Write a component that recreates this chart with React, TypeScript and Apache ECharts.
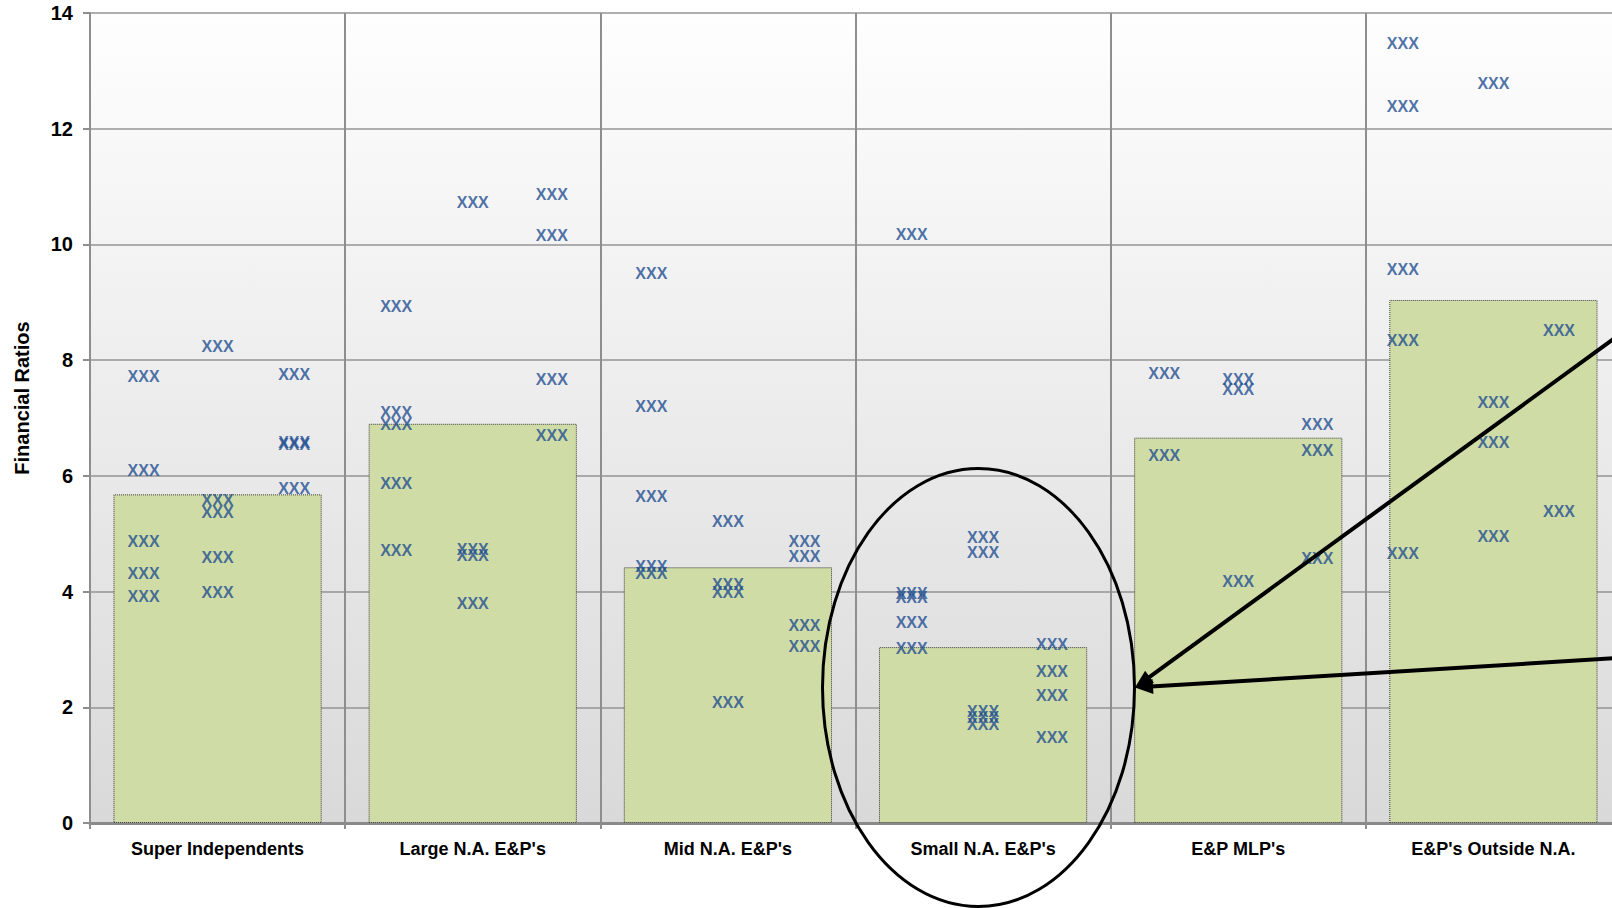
import React, { useEffect, useRef } from "react";
import * as echarts from "echarts";

// Peer groups along the bottom axis
const categories = [
  "Super Independents",
  "Large N.A. E&P's",
  "Mid N.A. E&P's",
  "Small N.A. E&P's",
  "E&P MLP's",
  "E&P's Outside N.A.",
];

// Group averages drawn as the green columns
const barValues = [5.68, 6.9, 4.42, 3.04, 6.66, 9.04];

// Value axis range
const yMin = 0;
const yMax = 14;
const yStep = 2;

// Horizontal placement (in group units) of the three company columns of each group
const columnPositions = [
  [0.21, 0.5, 0.8],
  [1.2, 1.5, 1.81],
  [2.2, 2.5, 2.8],
  [3.22, 3.5, 3.77],
  [4.21, 4.5, 4.81],
  [5.145, 5.5, 5.757],
];

// Individual company ratios, one list per column
const superIndependents = [
  [7.71, 6.1, 4.87, 4.32, 3.91],
  [8.23, 5.58, 5.36, 4.59, 3.99],
  [7.75, 6.58, 6.54, 5.78],
];
const largeNA = [
  [8.93, 7.1, 6.89, 5.86, 4.71],
  [10.73, 4.72, 4.63, 3.8],
  [10.86, 10.15, 7.66, 6.7],
];
const midNA = [
  [9.49, 7.2, 5.65, 4.43, 4.32],
  [5.21, 4.13, 3.98, 2.08],
  [4.87, 4.61, 3.41, 3.05],
];
const smallNA = [
  [10.18, 3.96, 3.89, 3.47, 3.01],
  [4.94, 4.68, 1.93, 1.82, 1.7],
  [3.09, 2.61, 2.21, 1.47],
];
const mlps = [
  [7.77, 6.35],
  [7.66, 7.5, 4.18],
  [6.88, 6.43, 4.57],
];
const outsideNA = [
  [13.48, 12.38, 9.56, 8.34, 4.65],
  [12.79, 7.27, 6.57, 4.95],
  [8.51, 5.39],
];

const pointGroups = [superIndependents, largeNA, midNA, smallNA, mlps, outsideNA];
const pointLabel = "XXX";

const FONT = '"Liberation Sans", Arial, sans-serif';

function arrow(x1: number, y1: number, x2: number, y2: number) {
  const dx = x2 - x1;
  const dy = y2 - y1;
  const len = Math.hypot(dx, dy);
  const ux = dx / len;
  const uy = dy / len;
  const headLen = 18;
  const headHalf = 7.5;
  const bx = x2 - ux * headLen;
  const by = y2 - uy * headLen;
  return [
    {
      type: "line",
      z: 100,
      shape: { x1, y1, x2: bx + ux * 2, y2: by + uy * 2 },
      style: { stroke: "#000", lineWidth: 4 },
    },
    {
      type: "polygon",
      z: 100,
      shape: {
        points: [
          [x2, y2],
          [bx - uy * headHalf, by + ux * headHalf],
          [bx + uy * headHalf, by - ux * headHalf],
        ],
      },
      style: { fill: "#000" },
    },
  ];
}

export default function App() {
  const ref = useRef<HTMLDivElement>(null);

  useEffect(() => {
    if (!ref.current) return;
    const chart = echarts.init(ref.current, null, { renderer: "svg" });

    const scatterData: [number, number][] = [];
    pointGroups.forEach((group, g) => {
      group.forEach((col, c) => {
        col.forEach((v) => scatterData.push([columnPositions[g][c], v]));
      });
    });

    const gridColor = "#8e8e8e";

    chart.setOption({
      animation: false,
      backgroundColor: "#ffffff",
      grid: {
        left: 90,
        top: 13,
        right: 0,
        bottom: 85,
        show: true,
        borderWidth: 0,
        backgroundColor: new echarts.graphic.LinearGradient(0, 0, 0, 1, [
          { offset: 0, color: "#fefefe" },
          { offset: 1, color: "#d9d9d9" },
        ]),
      },
      xAxis: [
        {
          type: "category",
          data: categories,
          boundaryGap: true,
          axisLine: { show: true, lineStyle: { color: "#8a8a8a", width: 3 } },
          axisTick: {
            show: true,
            interval: 0,
            length: 6,
            lineStyle: { color: gridColor, width: 2 },
          },
          splitLine: {
            show: true,
            interval: 0,
            lineStyle: { color: gridColor, width: 2 },
          },
          axisLabel: {
            interval: 0,
            margin: 17,
            color: "#000",
            fontFamily: FONT,
            fontWeight: "bold",
            fontSize: 18,
          },
        },
        {
          type: "value",
          min: 0,
          max: categories.length,
          show: false,
        },
      ],
      yAxis: {
        type: "value",
        min: yMin,
        max: yMax,
        interval: yStep,
        axisLine: { show: true, lineStyle: { color: gridColor, width: 2 } },
        axisTick: {
          show: true,
          length: 7,
          lineStyle: { color: gridColor, width: 2 },
        },
        splitLine: { show: true, lineStyle: { color: "#959595", width: 1.5 } },
        axisLabel: {
          margin: 17,
          color: "#000",
          fontFamily: FONT,
          fontWeight: "bold",
          fontSize: 20,
        },
      },
      series: [
        {
          type: "bar",
          xAxisIndex: 0,
          data: barValues,
          barWidth: "81.6%",
          itemStyle: {
            color: "#d0dca6",
            borderColor: "#3a3a3a",
            borderWidth: 1,
            borderType: "dotted",
          },
          z: 2,
        },
        {
          type: "scatter",
          xAxisIndex: 1,
          data: scatterData,
          symbolSize: 1,
          itemStyle: { color: "rgba(0,0,0,0)" },
          label: {
            show: true,
            position: "inside",
            formatter: pointLabel,
            color: "#1f4e91",
            fontFamily: FONT,
            fontWeight: "bold",
            fontSize: 16,
          },
          z: 5,
        },
      ],
      graphic: [
        {
          type: "text",
          x: 22,
          y: 398,
          rotation: Math.PI / 2,
          style: {
            text: "Financial Ratios",
            font: `bold 20px ${FONT}`,
            fill: "#000",
            align: "center",
            verticalAlign: "middle",
          },
        },
        {
          type: "ellipse",
          z: 100,
          shape: { cx: 978.5, cy: 687.5, rx: 156, ry: 219 },
          style: { fill: "none", stroke: "#000", lineWidth: 3 },
        },
        ...arrow(1640, 319.6, 1135, 687.5),
        ...arrow(1640, 656.7, 1135, 687.5),
      ],
    });

    return () => chart.dispose();
  }, []);

  return (
    <div
      ref={ref}
      style={{ position: "fixed", left: 0, top: 0, width: 1621, height: 908 }}
    />
  );
}
